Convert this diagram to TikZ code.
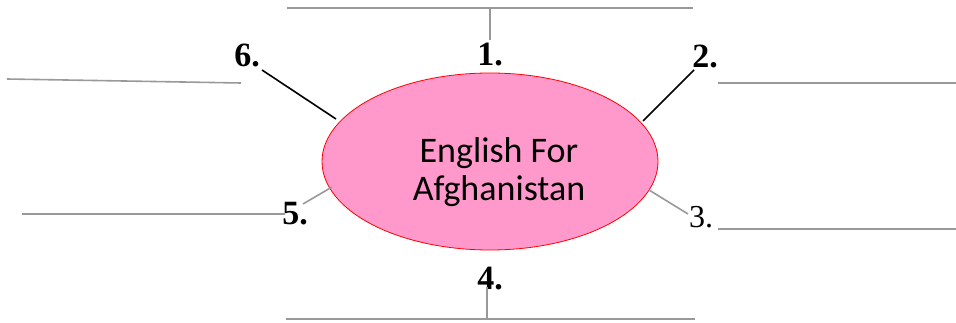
\documentclass[tikz,border=0pt]{standalone}
\usepackage{fontspec}
\setmainfont{Liberation Serif}
\newfontfamily\topicfont{Carlito}
\usetikzlibrary{shapes.geometric}
\definecolor{topicpink}{HTML}{FF99CC}
\definecolor{rulegray}{HTML}{999999}
\tikzset{
  topic/.style={ellipse, draw=red, fill=topicpink, line width=0.8pt, minimum width=336pt, minimum height=177pt, inner sep=0pt},
  topictext/.style={font=\topicfont\fontsize{36}{38}\selectfont, align=center, inner sep=0pt},
  numlabel/.style={font=\fontsize{34}{36}\selectfont\bfseries, inner sep=0pt},
  numplain/.style={font=\fontsize{32}{34}\selectfont, inner sep=0pt},
  blank/.style={draw=rulegray, line width=1.6pt},
  blackline/.style={draw=black, line width=1.6pt},
  grayline/.style={draw=rulegray, line width=1.6pt}
}
\begin{document}
\begin{tikzpicture}[x=1pt,y=-1pt]
\useasboundingbox (0,0) rectangle (956,323);
% topic
\node[topic] (topic) at (490,161.5) {};
\node[topictext] (topictxt) at (499,172) {English For\\Afghanistan};
% labels
\node[numlabel] (n1) at (490,55) {1.};
\node[numlabel] (n2) at (705,56) {2.};
\node[numplain] (n3) at (701,217) {3.};
\node[numlabel] (n4) at (490,279) {4.};
\node[numlabel] (n5) at (295,214) {5.};
\node[numlabel] (n6) at (247,55) {6.};
% answer lines
\coordinate (b1a) at (287,8);   \coordinate (b1b) at (693,8);
\coordinate (b2a) at (718,83);  \coordinate (b2b) at (956,83);
\coordinate (b3a) at (718,229); \coordinate (b3b) at (956,229);
\coordinate (b4a) at (286,319); \coordinate (b4b) at (695,319);
\coordinate (b5a) at (22,214);  \coordinate (b5b) at (285,214);
\coordinate (b6a) at (7,79);    \coordinate (b6b) at (241,83);
\draw[blank] (b1a) -- (b1b);
\draw[blank] (b2a) -- (b2b);
\draw[blank] (b3a) -- (b3b);
\draw[blank] (b4a) -- (b4b);
\draw[blank] (b5a) -- (b5b);
\draw[blank] (b6a) -- (b6b);
% connector end points
\coordinate (c1a) at (490,8);   \coordinate (c1b) at (490,40);
\coordinate (c2a) at (694,70);  \coordinate (c2b) at (643,121);
\coordinate (c3a) at (688,214); \coordinate (c3b) at (649,190);
\coordinate (c4a) at (487,287); \coordinate (c4b) at (487,319);
\coordinate (c5a) at (303,204); \coordinate (c5b) at (332,187);
\coordinate (c6a) at (262,70);  \coordinate (c6b) at (336,119);
\draw[grayline] (c1a) -- (c1b);
\draw[blackline] (c2a) -- (c2b);
\draw[grayline] (c3a) -- (c3b);
\draw[grayline] (c4a) -- (c4b);
\draw[grayline] (c5a) -- (c5b);
\draw[blackline] (c6a) -- (c6b);
\end{tikzpicture}
\end{document}
